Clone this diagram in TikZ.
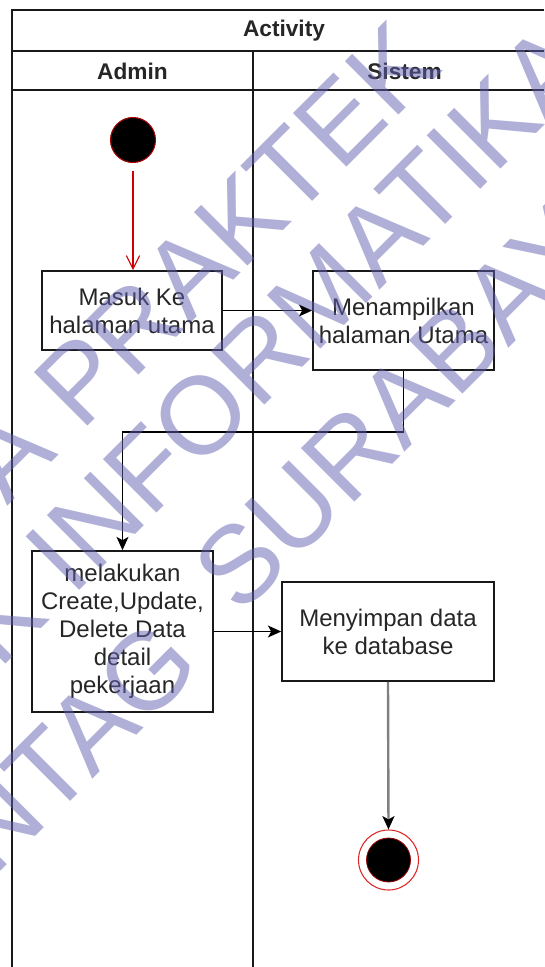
\documentclass[tikz,border=0pt]{standalone}
\usepackage{fontspec}
\setmainfont{Liberation Sans}
\usetikzlibrary{arrows.meta}
\definecolor{startrim}{RGB}{170,0,0}
\definecolor{endring}{RGB}{220,40,40}
\definecolor{endrim}{RGB}{150,0,0}
\definecolor{initflow}{RGB}{210,0,0}
\definecolor{finalflow}{RGB}{128,128,128}
\definecolor{stamp}{RGB}{96,96,176}
\begin{document}
\begin{tikzpicture}[x=0.75pt,y=-0.75pt,
  lane/.style={line width=1.2pt, draw=black!90},
  act/.style={draw=black!90, line width=1.2pt, fill=white, rectangle, inner sep=0pt,
    align=center, text=black!85, font=\fontsize{18pt}{21pt}\selectfont},
  hdr/.style={font=\fontsize{17pt}{20pt}\selectfont\bfseries, text=black!85, inner sep=0pt},
  flow/.style={line width=1.1pt, draw=black, -{Stealth[length=10pt,width=9pt,inset=2.5pt,color=black]}},
  wm/.style={rotate=45, anchor=base west, inner sep=0pt, text=stamp,
    text opacity=0.5, font=\fontsize{82.5pt}{82.5pt}\selectfont}
]
\fill[white] (0,0) rectangle (544,967);
\useasboundingbox (0,0) rectangle (544,967);

% pool frame and swimlanes
\draw[lane] (544,10) -- (12,10) -- (12,967);
\draw[lane] (12,51) -- (544,51);
\draw[lane] (12,90) -- (544,90);
\draw[lane] (253,51) -- (253,967);
\node[hdr] (title) at (284,31) {Activity};
\node[hdr] (admin) at (132.5,71) {Admin};
\node[hdr] (sistem) at (404.5,71) {Sistem};

% activity nodes
\node[circle, fill=black, draw=startrim, line width=0.8pt,
  minimum size=33.75pt, inner sep=0pt] (start) at (133,140) {};
\node[act, minimum width=135pt, minimum height=59.25pt] (b1) at (132,310.5) {Masuk Ke\\halaman utama};
\node[act, minimum width=135.75pt, minimum height=74.25pt] (b2) at (403.5,320.5) {Menampilkan\\halaman Utama};
\node[act, minimum width=135.75pt, minimum height=120.75pt] (b3) at (122.5,631.5)
  {melakukan\\Create,Update,\\Delete Data\\detail\\pekerjaan};
\node[act, minimum width=159pt, minimum height=74.25pt] (b4) at (388,631.5) {Menyimpan data\\ke database};
\node[circle, draw=endring, line width=0.8pt, fill=white,
  minimum size=45pt, inner sep=0pt] (end) at (388.5,860) {};
\node[circle, fill=black, draw=endrim, line width=0.6pt,
  minimum size=33pt, inner sep=0pt] (endcore) at (end.center) {};

% control flow
\draw[draw=initflow, line width=0.9pt, shorten <=6pt, -{Straight Barb[length=10pt,width=10pt]}]
  (start.south) -- (start.south |- b1.north);
\draw[flow] (b1.east) -- (b1.east -| b2.west);
\draw[flow] (b2.south) -- ++(0,61) -| (b3.north);
\draw[flow] (b3.east) -- (b4.west);
\draw[flow, draw=finalflow, line width=1.8pt] (b4.south) -- (end.north);

% watermark
\node[wm] (wm1) at (7.5,506.5) {A PRAKTEK};
\node[wm] (wm2) at (-1,671) {K INFORMATIKA};
\node[wm] (wm3a) at (-6,878) {NTAG};
\node[wm] (wm3b) at (240,617) {SURABAYA};
\end{tikzpicture}
\end{document}
